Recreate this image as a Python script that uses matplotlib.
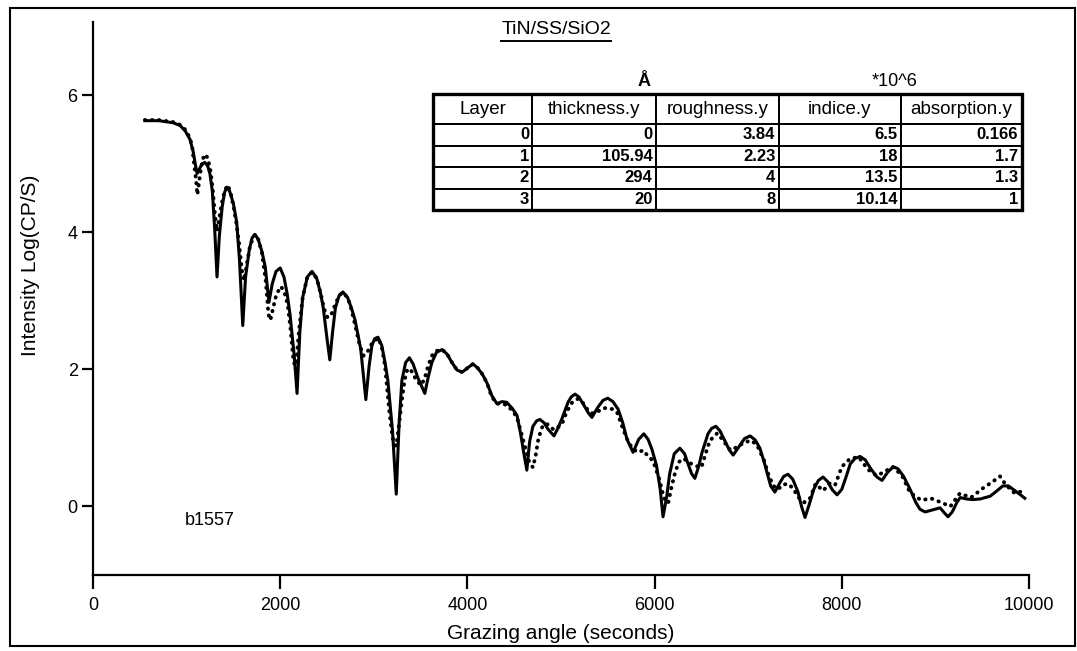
import matplotlib
matplotlib.use("Agg")
import matplotlib.pyplot as plt
from matplotlib.patches import Rectangle
from matplotlib.lines import Line2D

plt.rcParams['font.family'] = ['Liberation Sans', 'DejaVu Sans']

# fitted curve (solid)
fit_x = [555, 700, 855, 930, 985, 1035, 1070, 1095, 1112, 1135, 1165, 1195, 1225, 1250, 1275, 1300,
         1325, 1350, 1380, 1405, 1430, 1460, 1500, 1535, 1565, 1600, 1630, 1670, 1700, 1730, 1765,
         1805, 1840, 1880, 1915, 1955, 2000, 2040, 2075, 2105, 2150, 2180, 2210, 2240, 2290, 2340,
         2390, 2430, 2460, 2500, 2530, 2560, 2590, 2630, 2670, 2720, 2760, 2800, 2860, 2915, 2950,
         2980, 3010, 3045, 3085, 3120, 3150, 3200, 3240, 3270, 3300, 3340, 3380, 3420, 3470, 3545,
         3580, 3620, 3670, 3730, 3785, 3835, 3890, 3945, 4000, 4060, 4110, 4160, 4210, 4260, 4315,
         4370, 4420, 4480, 4530, 4570, 4600, 4635, 4665, 4700, 4740, 4775, 4820, 4860, 4925, 4970,
         5010, 5075, 5110, 5150, 5190, 5235, 5290, 5330, 5395, 5450, 5500, 5555, 5610, 5660, 5705,
         5770, 5830, 5885, 5930, 5970, 6020, 6060, 6090, 6130, 6160, 6210, 6270, 6320, 6355, 6395,
         6430, 6470, 6505, 6570, 6610, 6655, 6700, 6750, 6800, 6840, 6900, 6960, 7020, 7075, 7125,
         7170, 7200, 7240, 7285, 7340, 7380, 7425, 7475, 7530, 7570, 7607, 7650, 7700, 7750, 7800,
         7850, 7900, 7950, 8000, 8050, 8090, 8140, 8195, 8250, 8310, 8375, 8430, 8490, 8550, 8600,
         8660, 8730, 8790, 8835, 8890, 8970, 9050, 9100, 9135, 9180, 9230, 9265, 9330, 9400, 9480,
         9585, 9650, 9720, 9780, 9830, 9900, 9955]
fit_y = [5.63, 5.63, 5.60, 5.56, 5.48, 5.36, 5.18, 4.98, 4.86, 4.92, 5.00, 5.02, 4.97, 4.85, 4.60, 4.05,
         3.35, 3.95, 4.37, 4.58, 4.66, 4.60, 4.42, 4.15, 3.60, 2.64, 3.35, 3.75, 3.92, 3.97, 3.90,
         3.72, 3.50, 2.98, 3.25, 3.43, 3.48, 3.35, 3.10, 2.80, 2.20, 1.65, 2.55, 3.05, 3.35, 3.43,
         3.33, 3.12, 2.90, 2.45, 2.14, 2.55, 2.90, 3.08, 3.13, 3.05, 2.90, 2.72, 2.30, 1.56, 2.05,
         2.35, 2.45, 2.47, 2.35, 2.10, 1.84, 1.10, 0.18, 1.20, 1.84, 2.10, 2.17, 2.08, 1.88, 1.65,
         1.88, 2.10, 2.25, 2.29, 2.22, 2.10, 1.99, 1.96, 2.02, 2.08, 2.02, 1.93, 1.80, 1.62, 1.50,
         1.53, 1.52, 1.43, 1.33, 1.05, 0.80, 0.53, 0.95, 1.17, 1.25, 1.27, 1.22, 1.13, 1.03, 1.15,
         1.28, 1.52, 1.60, 1.64, 1.60, 1.50, 1.37, 1.30, 1.45, 1.55, 1.58, 1.53, 1.42, 1.22, 0.98,
         0.79, 0.98, 1.06, 0.98, 0.84, 0.60, 0.25, -0.15, 0.15, 0.47, 0.77, 0.85, 0.77, 0.63, 0.48,
         0.41, 0.58, 0.78, 1.06, 1.14, 1.17, 1.10, 0.96, 0.82, 0.75, 0.87, 0.99, 1.03, 0.97, 0.85,
         0.65, 0.50, 0.30, 0.21, 0.35, 0.44, 0.47, 0.40, 0.22, 0.00, -0.16, 0.02, 0.25, 0.38, 0.43,
         0.36, 0.24, 0.17, 0.25, 0.45, 0.62, 0.70, 0.73, 0.68, 0.55, 0.43, 0.38, 0.50, 0.58, 0.55,
         0.44, 0.25, 0.06, -0.04, -0.08, -0.05, -0.02, -0.10, -0.15, -0.08, 0.06, 0.13, 0.11, 0.10, 0.11,
         0.15, 0.22, 0.30, 0.30, 0.25, 0.18, 0.12]

# measured data (dotted)
meas_x = [555, 700, 855, 930, 985, 1035, 1060, 1080, 1100, 1115, 1130, 1150, 1175, 1205, 1230, 1255,
          1280, 1300, 1325, 1350, 1380, 1410, 1440, 1470, 1500, 1530, 1560, 1590, 1615, 1645, 1680,
          1730, 1765, 1805, 1845, 1875, 1895, 1925, 1960, 2010, 2050, 2080, 2110, 2140, 2165, 2200,
          2240, 2290, 2340, 2390, 2430, 2470, 2505, 2540, 2580, 2630, 2670, 2720, 2760, 2800, 2850,
          2890, 2930, 2980, 3045, 3085, 3120, 3165, 3200, 3240, 3270, 3300, 3330, 3360, 3400, 3440,
          3500, 3540, 3580, 3620, 3670, 3730, 3785, 3835, 3890, 3945, 4000, 4060, 4110, 4160, 4210,
          4260, 4315, 4370, 4420, 4480, 4530, 4570, 4620, 4660, 4700, 4730, 4760, 4800, 4840, 4880,
          4920, 4960, 5010, 5060, 5120, 5180, 5230, 5280, 5330, 5390, 5440, 5500, 5550, 5600, 5650,
          5700, 5760, 5820, 5880, 5920, 5960, 6000, 6050, 6100, 6145, 6180, 6220, 6260, 6310, 6360,
          6420, 6500, 6540, 6590, 6670, 6740, 6810, 6900, 6960, 7040, 7100, 7170, 7220, 7270, 7320,
          7370, 7430, 7480, 7540, 7600, 7660, 7720, 7760, 7800, 7880, 7930, 8000, 8090, 8180, 8280,
          8370, 8450, 8540, 8640, 8730, 8850, 8950, 9060, 9160, 9260, 9380, 9520, 9600, 9690, 9750,
          9850, 9940]
meas_y = [5.64, 5.64, 5.61, 5.57, 5.50, 5.38, 5.25, 5.00, 4.78, 4.55, 4.70, 4.90, 5.08, 5.14, 5.06, 4.90,
          4.62, 4.30, 4.02, 4.22, 4.45, 4.62, 4.69, 4.58, 4.38, 4.15, 3.85, 3.45, 3.30, 3.55, 3.82,
          3.97, 3.90, 3.70, 3.30, 2.80, 2.72, 2.90, 3.10, 3.21, 3.10, 2.95, 2.60, 2.15, 2.00, 2.55,
          3.05, 3.35, 3.42, 3.33, 3.12, 2.88, 2.76, 2.78, 2.92, 3.08, 3.12, 3.05, 2.88, 2.65, 2.35,
          2.20, 2.25, 2.38, 2.46, 2.33, 2.05, 1.40, 1.00, 0.88, 1.20, 1.55, 1.85, 2.01, 1.98, 1.88,
          1.77, 1.85, 2.05, 2.20, 2.27, 2.29, 2.22, 2.10, 1.99, 1.96, 2.02, 2.08, 2.02, 1.93, 1.80,
          1.60, 1.50, 1.50, 1.48, 1.40, 1.30, 1.10, 0.85, 0.65, 0.57, 0.75, 1.00, 1.16, 1.21, 1.18,
          1.12, 1.15, 1.20, 1.38, 1.52, 1.57, 1.52, 1.42, 1.36, 1.38, 1.43, 1.44, 1.42, 1.37, 1.18,
          1.00, 0.85, 0.79, 0.82, 0.75, 0.70, 0.60, 0.40, 0.12, 0.05, 0.28, 0.50, 0.65, 0.70, 0.65,
          0.60, 0.57, 0.75, 0.96, 1.07, 0.95, 0.82, 0.88, 0.94, 0.96, 0.88, 0.67, 0.45, 0.30, 0.25,
          0.32, 0.33, 0.26, 0.13, 0.06, 0.12, 0.33, 0.28, 0.23, 0.35, 0.32, 0.58, 0.70, 0.72, 0.54,
          0.45, 0.50, 0.58, 0.46, 0.20, 0.09, 0.12, 0.06, 0.00, 0.19, 0.13, 0.28, 0.35, 0.44, 0.32,
          0.19, 0.23]

x_ticks = [0, 2000, 4000, 6000, 8000, 10000]
y_ticks = [0, 2, 4, 6]

col_labels = ["Layer", "thickness.y", "roughness.y", "indice.y", "absorption.y"]
layers = ["0", "1", "2", "3"]
thickness = ["0", "105.94", "294", "20"]
roughness = ["3.84", "2.23", "4", "8"]
indice = ["6.5", "18", "13.5", "10.14"]
absorption = ["0.166", "1.7", "1.3", "1"]

fig = plt.figure(figsize=(10.77, 6.51), dpi=100)
ax = fig.add_axes([93 / 1077, 1 - 575 / 651, 936 / 1077, 553 / 651])

ax.plot(meas_x, meas_y, color='black', linewidth=2.8,
        linestyle=(0, (0.1, 1.7)), dash_capstyle='round')
ax.plot(fit_x, fit_y, color='black', linewidth=2.2, solid_joinstyle='round')

ax.set_xlim(0, 10000)
ax.set_ylim(-1, 7.07)
ax.set_xticks(x_ticks)
ax.set_yticks(y_ticks)
ax.spines['top'].set_visible(False)
ax.spines['right'].set_visible(False)
ax.spines['left'].set_linewidth(1.6)
ax.spines['bottom'].set_linewidth(1.6)
ax.tick_params(axis='x', direction='out', length=10, width=1.6, pad=6, labelsize=13)
ax.tick_params(axis='y', direction='out', length=8, width=1.6, pad=3, labelsize=13)

ax.set_xlabel("Grazing angle (seconds)", fontsize=15)
ax.set_ylabel("Intensity Log(CP/S)", fontsize=15)
ax.xaxis.set_label_coords(0.5, -0.088)
ax.yaxis.set_label_coords(-0.057, 0.56)

ax.text(980, -0.2, "b1557", fontsize=13, ha='left', va='center')

# parameter table
cell_text = [list(r) for r in zip(layers, thickness, roughness, indice, absorption)]
col_w = [99, 124, 123, 122, 121]
tbl = ax.table(cellText=cell_text, colLabels=col_labels, cellLoc='right', colLoc='center',
               colWidths=[w / 936 for w in col_w],
               bbox=[(433 - 93) / 936, (575 - 210) / 553, 589 / 936, 116 / 553])
tbl.auto_set_font_size(False)
tbl.set_fontsize(12)
for (r, c), cell in tbl.get_celld().items():
    cell.set_linewidth(1.4)
    cell.PAD = 0.03
    if r == 0:
        cell.set_height(30)
        cell.get_text().set_fontsize(13.5)
    else:
        cell.set_height(21.5)
        cell.get_text().set_fontweight('bold')
ax.add_patch(Rectangle(((433 - 93) / 936, (575 - 210) / 553), 589 / 936, 116 / 553,
                       transform=ax.transAxes, fill=False, linewidth=2.4, clip_on=False, zorder=5))
ax.text((644 - 93) / 936, (575 - 82) / 553, "Å", transform=ax.transAxes,
        ha='center', va='center', fontsize=13, fontweight='bold')
ax.text((895 - 93) / 936, (575 - 82) / 553, "*10^6", transform=ax.transAxes,
        ha='center', va='center', fontsize=13)

# title with underline
fig.text(556 / 1077, 1 - 29 / 651, "TiN/SS/SiO2", ha='center', va='center', fontsize=14)
fig.add_artist(Line2D([501 / 1077, 611 / 1077], [1 - 41 / 651, 1 - 41 / 651],
                      transform=fig.transFigure, color='black', linewidth=1.4))

# frame round the whole figure
fig.add_artist(Rectangle((10 / 1077, 5 / 651), 1065 / 1077, 638 / 651,
                         transform=fig.transFigure, fill=False, linewidth=1.5, color='black'))

fig.savefig("out.png", dpi=100)
